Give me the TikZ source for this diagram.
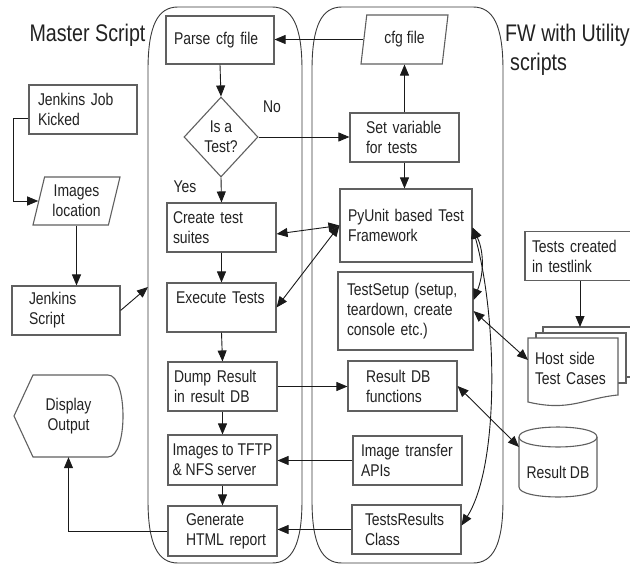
\documentclass[tikz,border=0pt]{standalone}
\usepackage{fontspec}
\setmainfont[FakeStretch=0.82]{Liberation Sans}
\usetikzlibrary{shapes.geometric, arrows.meta}
\definecolor{boxc}{HTML}{606060}
\definecolor{txtc}{HTML}{222222}
\definecolor{linec}{HTML}{1A1A1A}
\definecolor{contc}{HTML}{3A3A3A}
\begin{document}
\begin{tikzpicture}[x=1pt, y=-1pt,
  every node/.style={text=txtc, font=\fontsize{17}{20}\selectfont},
  box/.style={draw=boxc, line width=1.1pt, fill=white, align=left, inner ysep=0pt},
  para/.style={draw=boxc, line width=1.1pt, fill=white, trapezium, trapezium left angle=70, trapezium right angle=110, trapezium stretches body=true, inner xsep=1pt, inner ysep=0pt, align=center},
  conn/.style={draw=linec, line width=0.9pt},
  arr/.style={conn, -{Triangle[length=11pt,width=9pt]}},
  darr/.style={conn, {Triangle[length=11pt,width=9pt]}-{Triangle[length=11pt,width=9pt]}},
  cont/.style={draw=contc, line width=0.9pt},
  title/.style={font=\fontsize{24}{29}\selectfont, inner sep=0pt},
  plain/.style={inner sep=0pt},
  shapeline/.style={draw=boxc, line width=1.1pt, fill=white}
]
\useasboundingbox (0,0) rectangle (630,565);
\fill[white] (0,0) rectangle (630,565);

% containers
\draw[cont] (148,70) .. controls (148,25) and (158,7) .. (178,7) -- (272,7) .. controls (292,7) and (302,25) .. (302,70) -- (302,500) .. controls (302,545) and (292,563) .. (272,563) -- (178,563) .. controls (158,563) and (148,545) .. (148,500) -- cycle;
\draw[cont] (312,70) .. controls (312,25) and (322,7) .. (342,7) -- (473,7) .. controls (493,7) and (503,25) .. (503,70) -- (503,500) .. controls (503,545) and (493,563) .. (473,563) -- (342,563) .. controls (322,563) and (312,545) .. (312,500) -- cycle;

% titles
\node[title, anchor=base] (mstitle) at (87.5,41.6) {Master Script};
\node[title, anchor=north west, align=left] (fwtitle) at (505,24) {FW with Utility\\\hspace*{5pt}scripts};

% left outside
\node[box, minimum width=108pt, minimum height=49pt, inner xsep=9pt, text width=90pt] (jjk) at (83,109.5) {Jenkins Job\\Kicked};
\node[para, minimum width=87pt, minimum height=48pt] (imgloc) at (76.5,201) {Images\\location};
\node[box, minimum width=108pt, minimum height=49pt, inner xsep=17pt, text width=74pt] (jscript) at (66,310.5) {Jenkins\\Script};
\draw[shapeline] (14,416) -- (33,375) -- (108,375) .. controls (128,375) and (128,457) .. (108,457) -- (33,457) -- cycle;
\node[plain, minimum width=109pt, minimum height=82pt, align=center] (display) at (68.5,416) {Display\\Output};

% master script column
\node[box, minimum width=108pt, minimum height=48pt, inner xsep=8pt, text width=92pt] (parse) at (220,40) {Parse cfg file};
\node[draw=boxc, line width=1.1pt, fill=white, diamond, aspect=1, inner sep=0pt, minimum width=74pt, minimum height=80pt, align=center] (dec) at (221,137) {Is a\\Test?};
\node[plain] (nolbl) at (272,107) {No};
\node[plain] (yeslbl) at (185,187) {Yes};
\node[box, minimum width=109pt, minimum height=49pt, inner xsep=6pt, text width=97pt] (create) at (221.5,227.5) {Create test\\suites};
\node[box, minimum width=109pt, minimum height=49pt, inner xsep=9pt, text width=91pt] (execute) at (221.5,307.5) {Execute Tests\\\mbox{}};
\node[box, minimum width=109pt, minimum height=49pt, inner xsep=6pt, text width=97pt] (dump) at (222.5,386.5) {Dump Result\\in result DB};
\node[box, minimum width=109pt, minimum height=50pt, inner xsep=2pt] (tftp) at (222.5,460) {Images to TFTP\\\& NFS server};
\node[box, minimum width=109pt, minimum height=50pt, inner xsep=10pt, text width=89pt] (generate) at (222.5,531) {\hspace*{8pt}Generate\\\hspace*{8pt}HTML report};

% FW column
\node[para, minimum width=87pt, minimum height=49pt] (cfg) at (404.5,39.5) {cfg file};
\node[box, minimum width=109pt, minimum height=49pt, inner xsep=16pt, text width=77pt] (setvar) at (404.5,137.5) {Set variable\\for tests};
\node[box, minimum width=132pt, minimum height=73pt, inner xsep=8pt, text width=116pt] (pyunit) at (406,225.5) {PyUnit based Test\\Framework};
\node[box, minimum width=135pt, minimum height=78pt, inner xsep=9pt, text width=117pt] (testsetup) at (405.5,311) {TestSetup (setup,\\teardown, create\\console etc.)};
\node[box, minimum width=109pt, minimum height=50pt, inner xsep=18pt, text width=73pt] (rdbf) at (402.5,386) {Result DB\\functions};
\node[box, minimum width=109pt, minimum height=49pt, inner xsep=8pt, text width=93pt] (imgapi) at (407.5,460.5) {Image transfer\\APIs};
\node[box, minimum width=109pt, minimum height=49pt, inner xsep=13pt, text width=83pt] (trc) at (406.5,529.5) {TestsResults\\Class};

% far right
\node[box, minimum width=120pt, minimum height=49pt, inner xsep=7pt, text width=106pt] (testlink) at (585,256) {Tests created\\in testlink};
\draw[shapeline] (543,327) rectangle (640,377);
\draw[shapeline] (536,333) rectangle (626,383);
\draw[shapeline] (528,338) -- (618,338) -- (618,395) .. controls (585,398) and (570,412) .. (528,402) -- cycle;
\node[plain, minimum width=90pt, minimum height=58pt, inner xsep=7pt, text width=76pt, align=left] (hostside) at (573,368) {Host side\\Test Cases};
\draw[shapeline] (519,437) -- (519,487) .. controls (519,500.3) and (597,500.3) .. (597,487) -- (597,437);
\draw[shapeline] (519,437) .. controls (519,423.7) and (597,423.7) .. (597,437) .. controls (597,450.3) and (519,450.3) .. (519,437) -- cycle;
\node[plain] (rdb) at (558,472) {Result DB};

\coordinate (hsTop) at (580,327);
\coordinate (hsLeft) at (528,360);
\coordinate (rdbL) at (519,447);
\coordinate (mscont) at (148,287);

% connectors
\draw[arr] ([yshift=-8.5pt]jjk.west) -- ++(-15,0) |- (imgloc.west);
\draw[arr] (imgloc.south) -- (imgloc.south |- jscript.north);
\draw[arr] (jscript.east) -- (mscont);
\draw[arr] (parse.south) -- (dec.north);
\draw[arr] (dec.east) -- (dec.east -| setvar.west);
\draw[arr] (dec.south) -- (create.north);
\draw[arr] (create.south) -- (execute.north);
\draw[arr] (execute.south) -- (dump.north);
\draw[arr] (dump.south) -- (tftp.north);
\draw[arr] (tftp.south) -- (generate.north);
\draw[arr] (setvar.north) -- (setvar.north |- cfg.south);
\draw[arr] (cfg.west) -- (cfg.west -| parse.east);
\draw[arr] (setvar.south) -- (setvar.south |- pyunit.north);
\draw[darr] ([yshift=-6.5pt]create.east) -- (pyunit.west);
\draw[darr] (execute.east) -- (pyunit.west);
\draw[arr] (dump.east) -- (dump.east -| rdbf.west);
\draw[arr] (imgapi.west) -- (imgapi.west -| tftp.east);
\draw[arr] (trc.west) -- (trc.west -| generate.east);
\draw[arr] (generate.west) -| (display.south);
\draw[arr] (hsTop |- testlink.south) -- (hsTop);
\draw[darr] (testsetup.east) -- (hsLeft);
\draw[darr] (rdbf.east) -- (rdbL);
\draw[darr] ([yshift=-2pt]pyunit.east) .. controls +(12,25) and +(10,-25) .. ([yshift=11pt]testsetup.east);
\draw[darr] ([yshift=-2pt]pyunit.east) .. controls +(25,90) and +(38,-60) .. ([yshift=4pt]trc.east);
\end{tikzpicture}
\end{document}
